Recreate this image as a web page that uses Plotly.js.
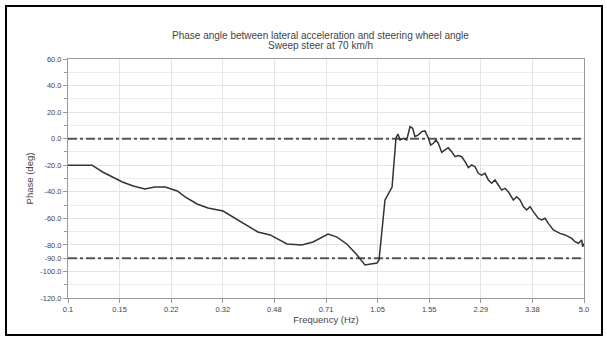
<!DOCTYPE html>
<html>
<head>
<meta charset="utf-8">
<script src="https://cdn.plot.ly/plotly-3.0.1.min.js"></script>
<style>
  html, body { margin: 0; padding: 0; background: #fff; }
  #wrap { position: relative; width: 607px; height: 340px; }
  #chart { width: 607px; height: 340px; }
  #frame { position: absolute; left: 5px; top: 5px; width: 594px; height: 327px;
           border: 2px solid #000; pointer-events: none; }
</style>
</head>
<body>
<div id="wrap">
  <div id="chart"></div>
  <div id="frame"></div>
</div>
<script>
// Measured phase response of the sweep steer run
const freqHz = [0.1, 0.1015, 0.120, 0.130, 0.151, 0.164, 0.179, 0.193, 0.209, 0.229, 0.243,
  0.266, 0.289, 0.324, 0.349, 0.383, 0.422, 0.463, 0.526, 0.589, 0.641, 0.718, 0.769,
  0.829, 0.895, 0.950, 1.041, 1.057, 1.081, 1.106, 1.167, 1.184, 1.202, 1.220,
  1.239, 1.271, 1.304, 1.337, 1.364, 1.388, 1.424, 1.460, 1.498, 1.537, 1.564, 1.596,
  1.628, 1.657, 1.700, 1.743, 1.787, 1.833, 1.881, 1.929, 1.978, 2.029, 2.081, 2.134,
  2.188, 2.244, 2.301, 2.360, 2.421, 2.483, 2.546, 2.612, 2.679, 2.747, 2.817, 2.926,
  3.001, 3.078, 3.157, 3.238, 3.320, 3.405, 3.537, 3.627, 3.721, 3.816, 3.963, 4.064,
  4.169, 4.330, 4.441, 4.555, 4.671, 4.791, 4.913, 4.950, 5.0];
const phaseDeg = [-20, -20, -20, -25.1, -32.6, -35.6, -37.9, -36.4, -36.4, -39.4, -43.9,
  -49.2, -52.2, -54.5, -59.0, -65.0, -70.3, -72.5, -79.3, -80.1, -77.8, -71.8, -74.1,
  -79.5, -87.6, -95.1, -93.6, -91.4, -66.5, -46.2, -36.4, -18.3, 0.5, 3.5,
  -1.0, 0.3, -1.0, 9.0, 7.8, 1.5, 2.8, 5.3, 5.8, 0.3, -4.8, -3.5,
  -1.0, -3.5, -10.3, -8.5, -6.8, -9.8, -13.6, -12.8, -13.6, -17.3, -21.8, -19.8,
  -21.1, -26.1, -27.4, -26.1, -31.1, -33.6, -31.1, -34.9, -38.7, -37.4, -39.9, -46.2,
  -43.7, -46.2, -51.2, -53.7, -51.2, -55.0, -60.0, -61.2, -60.0, -63.8, -68.8, -70.0,
  -71.3, -72.5, -73.8, -75.1, -77.6, -78.8, -76.3, -81.3, -79.0];

// Reference levels drawn as dash-dot lines
const refLevels = [0, -90];

// Chart title lines
const titleLines = ["Phase angle between lateral acceleration and steering wheel angle",
                    "Sweep steer at 70 km/h"];

// Axis ticks
const yTickVals = [60, 40, 20, 0, -20, -40, -60, -80, -90, -100, -120];
const yTickText = ["60.0", "40.0", "20.0", "0.0", "-20.0", "-40.0", "-60.0", "-80.0", "-90.0", "-100.0", "-120.0"];
const xTickText = ["0.1", "0.15", "0.22", "0.32", "0.48", "0.71", "1.05", "1.55", "2.29", "3.38", "5.0"];

const fMin = 0.1, fMax = 5.0;
// ten equal divisions of the log axis
const xTickVals = xTickText.map((_, k) =>
  Math.pow(10, Math.log10(fMin) + k * (Math.log10(fMax) - Math.log10(fMin)) / (xTickText.length - 1)));

const font = { family: "Liberation Sans, Arial, sans-serif", color: "#444" };

const traces = refLevels.map(v => ({
  x: [fMin, fMax], y: [v, v], mode: "lines", type: "scatter",
  line: { color: "#555", width: 2, dash: "dashdot" }, hoverinfo: "skip", showlegend: false
}));
traces.push({
  x: freqHz, y: phaseDeg, mode: "lines", type: "scatter",
  line: { color: "#333", width: 1.5 }, showlegend: false
});

// two tightly spaced title lines above the plot
const titleY = [1.100, 1.058];
const annotations = titleLines.map((t, i) => ({
  text: t, xref: "paper", yref: "paper", x: 0.49, y: titleY[i],
  xanchor: "center", yanchor: "middle", showarrow: false,
  font: Object.assign({}, font, { size: 10 })
}));

const layout = {
  width: 607, height: 340,
  margin: { l: 68, r: 23, t: 59, b: 42 },
  paper_bgcolor: "#fff", plot_bgcolor: "#fff",
  font: Object.assign({ size: 7.5 }, font),
  annotations: annotations,
  xaxis: {
    type: "log", range: [Math.log10(fMin), Math.log10(fMax)],
    tickmode: "array", tickvals: xTickVals, ticktext: xTickText,
    ticks: "outside", ticklen: 4, tickcolor: "#999",
    showline: true, linecolor: "#999", linewidth: 1, mirror: true,
    showgrid: true, gridcolor: "#e4e4e4", zeroline: false,
    tickfont: { size: 7.5 },
    title: { text: "Frequency (Hz)", font: { size: 9.5 }, standoff: 2 }
  },
  yaxis: {
    range: [-120, 60],
    tickmode: "array", tickvals: yTickVals, ticktext: yTickText,
    ticks: "outside", ticklen: 4, tickcolor: "#999",
    showline: true, linecolor: "#999", linewidth: 1, mirror: true,
    showgrid: true, gridcolor: "#e4e4e4", zeroline: false,
    minor: { tickmode: "linear", tick0: 0, dtick: 10, ticks: "outside", ticklen: 3,
             tickcolor: "#999", showgrid: true, gridcolor: "#ececec" },
    tickfont: { size: 7.5 },
    title: { text: "Phase (deg)", font: { size: 9.5 }, standoff: 4 }
  }
};

Plotly.newPlot("chart", traces, layout, { staticPlot: true, displayModeBar: false });
</script>
</body>
</html>
